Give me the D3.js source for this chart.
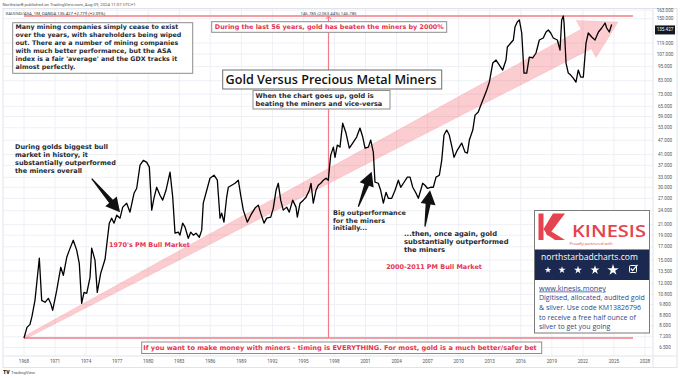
<!DOCTYPE html>
<html lang="en">
<head>
<meta charset="UTF-8">
<title>Gold Versus Precious Metal Miners</title>
<script src="https://cdn.jsdelivr.net/npm/d3@7"></script>
<style>
  body { margin: 0; background: #fff; }
  svg { display: block; }
</style>
</head>
<body>
<svg id="main" width="680" height="378"></svg>
<script>
// gold / ASA miners index ratio (decimal years)
const years = [1968.0,1968.29,1968.58,1968.77,1969.06,1969.16,1969.48,1969.71,1970.03,1970.35,1970.58,1970.77,
  1971.16,1971.55,1971.80,1972.13,1972.38,1972.76,1973.09,1973.34,1973.57,1973.80,1974.06,1974.38,
  1974.54,1974.86,1975.08,1975.41,1975.83,1976.24,1976.47,1976.70,1976.96,1977.28,1977.54,1977.92,
  1978.24,1978.63,1978.89,1979.21,1979.53,1979.86,1980.11,1980.34,1980.56,1980.82,1981.14,1981.40,
  1981.72,1982.11,1982.37,1982.59,1982.91,1983.07,1983.33,1983.56,1983.87,1984.11,1984.36,1984.62,
  1984.94,1985.17,1985.32,1985.71,1985.97,1986.36,1986.68,1986.94,1987.10,1987.32,1987.58,1987.74,
  1988.07,1988.39,1988.71,1988.94,1989.19,1989.58,1989.91,1990.32,1990.64,1990.87,1991.19,1991.45,
  1991.84,1992.09,1992.35,1992.57,1992.80,1993.05,1993.38,1993.63,1993.96,1994.28,1994.41,1994.67,
  1994.99,1995.25,1995.57,1995.73,1995.95,1996.21,1996.43,1996.67,1996.92,1997.18,1997.40,1997.63,
  1997.89,1998.05,1998.27,1998.53,1998.79,1999.11,1999.43,1999.76,2000.14,2000.46,2000.73,2000.95,
  2001.27,2001.50,2001.75,2001.91,2002.23,2002.46,2002.72,2002.98,2003.20,2003.53,2003.85,2004.17,
  2004.40,2004.72,2005.04,2005.30,2005.56,2005.88,2006.10,2006.33,2006.52,2006.74,2006.97,2007.30,
  2007.55,2007.81,2008.13,2008.36,2008.58,2008.84,2009.09,2009.35,2009.55,2009.87,2010.29,2010.61,
  2010.84,2011.03,2011.36,2011.58,2011.89,2012.22,2012.45,2012.71,2012.96,2013.29,2013.61,2013.93,
  2014.25,2014.57,2014.70,2015.03,2015.28,2015.44,2015.66,2015.86,2016.09,2016.31,2016.57,2016.82,
  2017.15,2017.47,2017.79,2018.17,2018.44,2018.66,2018.89,2019.14,2019.53,2019.79,2019.95,2020.11,
  2020.18,2020.37,2020.59,2020.82,2021.07,2021.33,2021.55,2021.79,2022.04,2022.30,2022.52,2022.85,
  2023.17,2023.50,2023.82,2024.14,2024.30,2024.55,2024.78];

const ratio = [6.785,7.51,7.73,8.34,9.72,10.69,14.53,9.72,9.54,9.91,9.44,8.83,
  10.69,13.33,12.35,14.66,15.7,17.25,15.7,13.85,9.44,10.49,10.39,12.10,
  16.0,14.25,10.49,12.58,14.39,20.31,21.3,20.31,21.92,21.3,23.67,24.58,
  22.56,27.01,28.34,35.35,37.0,36.3,34.68,23.0,25.79,28.61,26.5,25.3,
  27.8,33.06,26.0,18.46,18.64,18.11,20.31,19.55,17.58,18.64,18.11,18.46,
  17.75,19.0,24.58,28.34,31.19,32.1,30.6,21.3,22.35,20.5,26.0,28.61,
  29.16,29.72,30.6,26.5,23.0,20.5,21.92,23.45,24.13,22.35,20.31,21.3,
  21.51,23.45,27.8,29.72,25.3,23.0,23.67,22.56,25.3,23.67,21.51,24.58,
  25.3,26.0,27.8,29.72,24.58,27.8,29.16,29.72,30.6,31.19,30.6,38.81,
  41.99,38.08,42.8,41.99,52.76,48.0,41.59,43.63,46.21,50.36,46.21,41.59,
  41.99,44.9,40.02,30.02,29.73,27.8,24.58,27.27,25.75,25.75,27.8,30.6,
  28.61,30.02,31.52,31.52,28.61,27.01,25.75,27.8,29.73,29.16,28.34,28.61,
  28.61,31.52,32.1,37.0,47.1,49.4,47.1,41.99,38.08,40.8,43.63,40.02,
  39.64,44.9,49.4,56.96,58.66,63.94,67.72,72.4,78.09,93.67,96.4,91.9,
  87.6,96.4,109.2,113.4,116.7,132.1,138.6,141.3,124.8,85.1,85.1,99.2,
  98.3,103.1,116.7,119.0,126.0,128.4,124.8,119.0,116.7,106.1,141.3,146.785,
  137.3,93.67,85.1,83.5,81.1,78.09,87.6,81.9,81.9,113.4,124.8,120.1,
  116.7,126.0,130.9,137.3,130.9,126.0,135.4];

const xTickYears = [1968,1971,1974,1977,1980,1983,1986,1989,1992,1995,1998,2001,2004,2007,2010,2013,2016,2019,2022,2025,2028];
const yTickValues = [163,150,119,107,95,83,73,65,59,53,47,41,37,33,30,27,24,21,19,17,15,13.5,12,10.8,9.8,8.8,8.0,7.2,6.5];

// price range tool + annotation anchors (year, value)
const rangeLow = 6.785, rangeHigh = 146.785;
const rangeYears = [1968, 2026.84];
const lastPrice = 135.427;
const bigArrow = [[1968, 6.785], [2025.39, 138.6]];
const blackArrows = [
  [[1974.54, 31.1], [1977.28, 22.56]],
  [[2000.30, 23.74], [2001.59, 33.16]],
  [[2006.74, 19.65], [2007.23, 27.8]]
];

let svg = d3.select('svg#main');
svg.append('rect').attr('width', 680).attr('height', 378).attr('fill', '#fff');

let pane = {l: 3, r: 653, t: 8.5, b: 356};

let x = d3.scaleLinear().domain([1968, 2028]).range([24, 645]);
let y = d3.scaleLog().domain([rangeHigh, rangeLow]).range([16, 338]);
const labelShift = 5;

// grid
let grid = svg.append('g');
grid.selectAll('line.v').data(xTickYears).enter().append('line')
  .attr('x1', d => x(d)).attr('x2', d => x(d))
  .attr('y1', pane.t).attr('y2', pane.b)
  .attr('stroke', '#eef0f5').attr('stroke-width', 1);
grid.selectAll('line.h').data(yTickValues).enter().append('line')
  .attr('x1', pane.l).attr('x2', pane.r)
  .attr('y1', d => y(d) + labelShift).attr('y2', d => y(d) + labelShift)
  .attr('stroke', '#eef0f5').attr('stroke-width', 1);

// frame
svg.append('rect').attr('x', 3).attr('y', 8.5).attr('width', 674).attr('height', 359)
  .attr('fill', 'none').attr('stroke', '#e0e3eb');
svg.append('line').attr('x1', pane.r).attr('x2', pane.r).attr('y1', 8.5).attr('y2', 367.5).attr('stroke', '#e0e3eb');
svg.append('line').attr('x1', 3).attr('x2', 677).attr('y1', pane.b).attr('y2', pane.b).attr('stroke', '#e0e3eb');

// arrow polygon helper
function arrowPts(p0, p1, w0, w1, headW, headL) {
  let dx = p1[0] - p0[0], dy = p1[1] - p0[1];
  let L = Math.hypot(dx, dy), ux = dx / L, uy = dy / L;
  let nx = -uy, ny = ux;
  let b = [p1[0] - ux * headL, p1[1] - uy * headL];
  return [
    [p0[0] + nx * w0 / 2, p0[1] + ny * w0 / 2],
    [b[0] + nx * w1 / 2, b[1] + ny * w1 / 2],
    [b[0] + nx * headW / 2, b[1] + ny * headW / 2],
    p1,
    [b[0] - nx * headW / 2, b[1] - ny * headW / 2],
    [b[0] - nx * w1 / 2, b[1] - ny * w1 / 2],
    [p0[0] - nx * w0 / 2, p0[1] - ny * w0 / 2]
  ];
}
const toPx = d => [x(d[0]), y(d[1])];

// big pink arrow
svg.append('polygon')
  .attr('points', arrowPts(toPx(bigArrow[0]), toPx(bigArrow[1]), 3, 22, 42, 36).join(' '))
  .attr('fill', 'rgba(242,54,69,0.25)')
  .attr('stroke', 'rgba(242,54,69,0.15)').attr('stroke-width', 0.8);

// price range tool
let rg = svg.append('g').attr('stroke', '#ef7c87').attr('fill', 'none');
let xr0 = x(rangeYears[0]), xr1 = x(rangeYears[1]), xm = (xr0 + xr1) / 2;
rg.append('line').attr('x1', xr0).attr('x2', xr1).attr('y1', y(rangeHigh)).attr('y2', y(rangeHigh)).attr('stroke-width', 1.5);
rg.append('line').attr('x1', xr0).attr('x2', xr1).attr('y1', y(rangeLow)).attr('y2', y(rangeLow)).attr('stroke-width', 1.5);
rg.append('line').attr('x1', xm).attr('x2', xm).attr('y1', y(rangeHigh)).attr('y2', y(rangeLow)).attr('stroke-width', 1.2);
rg.append('path').attr('d', `M${xm - 2.5},${y(rangeHigh) + 3} L${xm},${y(rangeHigh)} L${xm + 2.5},${y(rangeHigh) + 3}`).attr('stroke-width', 1);
svg.append('text').attr('x', xm).attr('y', 13.3).attr('dy', '0.35em')
  .attr('text-anchor', 'middle').attr('font-family', 'Roboto, sans-serif').attr('font-size', 4.3)
  .attr('fill', '#444')
  .text(`${rangeHigh.toFixed(3)} (2,063.44%) ${rangeHigh.toFixed(3)}`);

// the ratio line
let line = d3.line().x(d => x(d[0])).y(d => y(d[1]));
svg.append('path').datum(d3.zip(years, ratio))
  .attr('d', line).attr('fill', 'none')
  .attr('stroke', '#000').attr('stroke-width', 1.3).attr('stroke-linejoin', 'round');

// axes labels
svg.append('g').selectAll('text').data(xTickYears).enter().append('text')
  .attr('x', d => x(d)).attr('y', 361.7).attr('dy', '0.35em')
  .attr('text-anchor', 'middle').attr('font-family', 'Roboto, sans-serif').attr('font-size', 4.6)
  .attr('fill', '#555').text(d => d);
let fmt = d3.format('.3f');
svg.append('g').selectAll('text').data(yTickValues).enter().append('text')
  .attr('x', 665).attr('y', d => y(d) + labelShift).attr('dy', '0.35em')
  .attr('text-anchor', 'middle').attr('font-family', 'Roboto, sans-serif').attr('font-size', 4.6)
  .attr('fill', '#555').text(d => fmt(d));
// last price tag
let lp = y(lastPrice) + labelShift;
svg.append('rect').attr('x', 655).attr('y', lp - 4).attr('width', 20).attr('height', 9).attr('fill', '#131722');
svg.append('text').attr('x', 665).attr('y', lp).attr('dy', '0.35em').attr('text-anchor', 'middle')
  .attr('font-family', 'Roboto, sans-serif').attr('font-size', 4.6).attr('fill', '#fff').text(fmt(lastPrice));

// header texts
svg.append('text').attr('x', 2.5).attr('y', 4.5).attr('dy', '0.35em')
  .attr('font-family', 'Roboto, sans-serif').attr('font-size', 4.3).attr('fill', '#555')
  .text('NorthstarB published on TradingView.com, Aug 09, 2024 11:07 UTC+1');
svg.append('text').attr('x', 5.5).attr('y', 13.3).attr('dy', '0.35em')
  .attr('font-family', 'Roboto, sans-serif').attr('font-size', 4.3).attr('fill', '#333')
  .text('XAUUSD/ASA, 1M, OANDA  135.427  +2.779 (+2.09%)');
svg.append('text').attr('x', 3).attr('y', 372).attr('dy', '0.35em')
  .attr('font-family', 'Roboto, sans-serif').attr('font-weight', 900).attr('font-size', 5.2).attr('fill', '#131722')
  .text('TV');
svg.append('text').attr('x', 11).attr('y', 372).attr('dy', '0.35em')
  .attr('font-family', 'Roboto, sans-serif').attr('font-size', 4.4).attr('fill', '#555')
  .text('TradingView');

// text helpers
function fit(t, target, idx) {
  let nodes = t.selectAll('tspan').nodes();
  let w = idx == null ? d3.max(nodes, n => n.getComputedTextLength()) : nodes[idx].getComputedTextLength();
  t.attr('font-size', parseFloat(t.attr('font-size')) * target / w);
}
function block(lines, o) {
  let t = svg.append('text')
    .attr('font-family', o.family || '"DejaVu Sans", sans-serif')
    .attr('font-weight', o.weight || 700)
    .attr('font-size', o.size || 8)
    .attr('fill', o.fill || '#262a33')
    .attr('text-anchor', o.anchor || 'start');
  lines.forEach((s, i) => t.append('tspan').attr('x', o.x).attr('y', o.y + i * (o.lh || 0)).attr('dy', '0.35em').text(s));
  if (o.fit) fit(t, o.fit, o.fitLine);
  if (o.underline) t.attr('text-decoration', 'underline');
  return t;
}
function box(x0, y0, x1, y1, stroke) {
  svg.append('rect').attr('x', x0).attr('y', y0).attr('width', x1 - x0).attr('height', y1 - y0)
    .attr('fill', '#fff').attr('stroke', stroke || '#8d8d8d').attr('stroke-width', 1);
}
const red = '#e4344f';
const opensans = '"Open Sans", sans-serif';

// left note
box(12.7, 22.7, 192.7, 73.3);
block(['Many mining companies simply cease to exist',
  'over the years, with shareholders being wiped',
  'out. There are a number of mining companies',
  'with much better performance, but the ASA',
  "index is a fair 'average' and the GDX tracks it",
  'almost perfectly.'], {x: 15.5, y: 26.7, lh: 7.95, fit: 166});

// top red note
box(211.7, 21.7, 446.7, 32.3);
block(['During the last 56 years, gold has beaten the miners by 2000%'],
  {x: 329.3, y: 27, anchor: 'middle', fill: red, fit: 229});

// title
box(222.7, 70, 441.7, 89, '#6f6f6f');
block(['Gold Versus Precious Metal Miners'], {x: 331, y: 79.3, anchor: 'middle', weight: 600, size: 14, fit: 211, fill: '#111', family: opensans});

box(253, 90.5, 390, 109);
block(['When the chart goes up, gold is', 'beating the miners and vice-versa'],
  {x: 255.5, y: 95.7, lh: 7.6, fit: 127});

block(['During golds biggest bull', 'market in history, it', 'substantially outperformed', 'the miners overall'],
  {x: 15, y: 147, lh: 8, fit: 101});
let redLbl = block(["1970's PM Bull Market"], {x: 109, y: 245, fill: red, fit: 81});
block(['Big outperformance', 'for the miners', 'initially...'], {x: 333, y: 212.7, lh: 7.7, fit: 73, fitLine: 0});
block(['...then, once again, gold', 'substantially outperformed', 'the miners'], {x: 404, y: 234, lh: 8, fit: 93, fitLine: 0});
block(['2000-2011 PM Bull Market'], {x: 434, y: 267, anchor: 'middle', fill: red, size: redLbl.attr('font-size')});

// bottom note
box(141.7, 342, 541.7, 353.5);
block(['If you want to make money with miners - timing is EVERYTHING. For most, gold is a much better/safer bet'],
  {x: 340, y: 347.7, anchor: 'middle', fill: red, fit: 394});

// black arrows
svg.append('g').selectAll('polygon').data(blackArrows).enter().append('polygon')
  .attr('points', d => arrowPts(toPx(d[0]), toPx(d[1]), 1.2, 5, 15, 14).join(' '))
  .attr('fill', '#111');

// Kinesis card
box(534.5, 210.5, 649.5, 333, '#7a7a7a');
let kin = '#e5434f';
let k = svg.append('g').attr('fill', kin);
k.append('rect').attr('x', 538.5).attr('y', 213.5).attr('width', 5).attr('height', 26.5);
k.append('polygon').attr('points', '543.5,229 553,213.5 565,213.5 548,236');
k.append('polygon').attr('points', '549,230 565,240 555,240 546,234');
svg.append('text').attr('x', 572).attr('y', 236.5)
  .attr('font-family', opensans).attr('font-weight', 600).attr('font-size', 16)
  .attr('fill', kin).attr('textLength', 74).attr('lengthAdjust', 'spacingAndGlyphs').text('KINESIS');
svg.append('text').attr('x', 591).attr('y', 243.2).attr('dy', '0.35em').attr('text-anchor', 'middle')
  .attr('font-family', opensans).attr('font-size', 4).attr('fill', kin).text('Proudly partnered with');
svg.append('rect').attr('x', 535).attr('y', 249.5).attr('width', 114).attr('height', 30.5).attr('fill', '#1b2850');
block(['northstarbadcharts.com'], {x: 541, y: 257, weight: 400, fill: '#fff', fit: 97, family: opensans});
let starX = [548, 562, 578, 595, 613], starS = [14, 16, 20, 26, 40];
svg.append('g').selectAll('path').data(starX).enter().append('path')
  .attr('transform', d => `translate(${d},270)`)
  .attr('d', (d, i) => d3.symbol(d3.symbolStar, starS[i])())
  .attr('fill', '#fff');
svg.append('rect').attr('x', 629.5).attr('y', 265.5).attr('width', 7).attr('height', 7).attr('rx', 1)
  .attr('fill', 'none').attr('stroke', '#fff').attr('stroke-width', 1);
svg.append('path').attr('d', 'M630.8,268.5 L632.6,270.6 L637.5,264.8').attr('fill', 'none')
  .attr('stroke', '#fff').attr('stroke-width', 1.3);
let blue = '#2c4a8a';
block(['www.kinesis.money'], {x: 539, y: 288, weight: 400, fill: blue, fit: 67, underline: true, family: opensans});
block(['Digitised, allocated, audited gold', '& silver. Use code KM13826796', 'to receive a free half ounce of', 'silver to get you going'],
  {x: 539, y: 298, lh: 9.6, weight: 400, fill: blue, fit: 106, fitLine: 0, family: opensans});
</script>
</body>
</html>
